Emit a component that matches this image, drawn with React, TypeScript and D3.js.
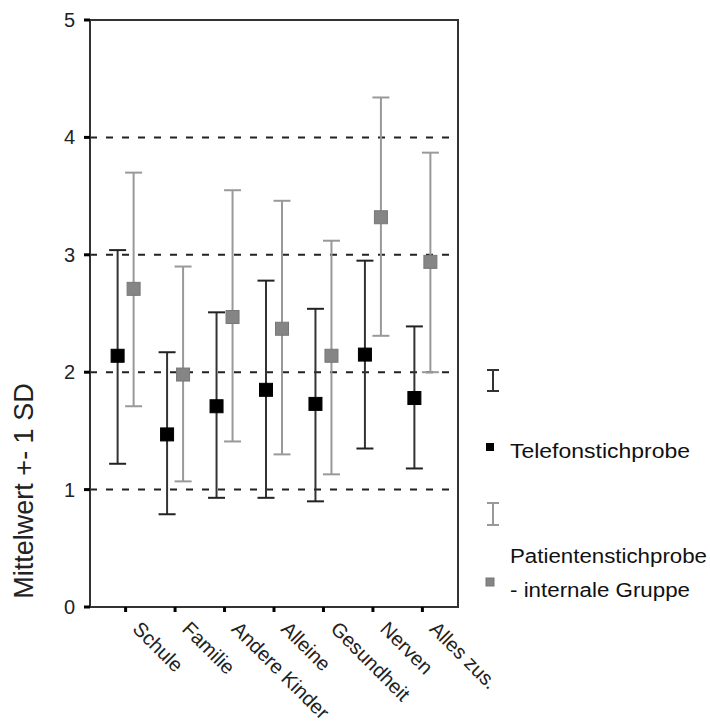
import * as d3 from "d3";

const categories = ["Schule", "Familie", "Andere Kinder", "Alleine", "Gesundheit", "Nerven", "Alles zus."];

// Telefonstichprobe
const telMean = [2.14, 1.47, 1.71, 1.85, 1.73, 2.15, 1.78];
const telLow = [1.22, 0.79, 0.93, 0.93, 0.9, 1.35, 1.18];
const telHigh = [3.04, 2.17, 2.51, 2.78, 2.54, 2.95, 2.39];

// Patientenstichprobe - internale Gruppe
const patMean = [2.71, 1.98, 2.47, 2.37, 2.14, 3.32, 2.94];
const patLow = [1.71, 1.07, 1.41, 1.3, 1.13, 2.31, 2.0];
const patHigh = [3.7, 2.9, 3.55, 3.46, 3.12, 4.34, 3.87];

const yTicks = [0, 1, 2, 3, 4, 5];
const gridValues = [1, 2, 3, 4];

const W = 710;
const H = 724;
const left = 90;
const right = 458;
const top = 20;
const bottom = 607;
const font = "'Liberation Sans', Arial, sans-serif";

const series = [
  { name: "Telefonstichprobe", mean: telMean, low: telLow, high: telHigh, offset: -8, line: "#333", cap: "#222", fill: "#000", stroke: "#000" },
  { name: "Patientenstichprobe", mean: patMean, low: patLow, high: patHigh, offset: 8, line: "#999", cap: "#999", fill: "#858585", stroke: "#777" },
];

export default function App() {
  const x = d3.scalePoint<string>().domain(categories).range([left, right]).padding(0.72);
  const y = d3.scaleLinear().domain([0, 5]).range([bottom, top]);
  const capW = 17;
  const sq = 13;

  return (
    <svg width={W} height={H} style={{ position: "absolute", left: 0, top: 0, background: "#fff" }} fontFamily={font}>
      {/* dashed reference lines */}
      {gridValues.map((v) => (
        <line key={v} x1={left} x2={right} y1={y(v)} y2={y(v)} stroke="#222" strokeWidth={2} strokeDasharray="7,9" />
      ))}

      {/* frame */}
      <rect x={left} y={top} width={right - left} height={bottom - top} fill="none" stroke="#333" strokeWidth={2} />

      {/* y ticks */}
      {yTicks.map((t) => (
        <g key={t}>
          <line x1={left - 6} x2={left} y1={y(t)} y2={y(t)} stroke="#000" strokeWidth={3} />
          <text x={75} y={y(t)} dy="0.35em" textAnchor="end" fontSize={20} fill="#222">{t}</text>
        </g>
      ))}

      {/* x ticks + labels */}
      {categories.map((c) => (
        <g key={c}>
          <line x1={x(c)} x2={x(c)} y1={bottom} y2={bottom + 5} stroke="#000" strokeWidth={3} />
          <text transform={`translate(${(x(c) as number) + 6},${bottom + 23}) rotate(45)`} fontSize={20} fill="#222">{c}</text>
        </g>
      ))}

      {/* error bars */}
      {series.map((s) =>
        categories.map((c, i) => {
          const cx = (x(c) as number) + s.offset;
          return (
            <g key={s.name + c}>
              <line x1={cx} x2={cx} y1={y(s.low[i])} y2={y(s.high[i])} stroke={s.line} strokeWidth={2} />
              <line x1={cx - capW / 2} x2={cx + capW / 2} y1={y(s.high[i])} y2={y(s.high[i])} stroke={s.cap} strokeWidth={2} />
              <line x1={cx - capW / 2} x2={cx + capW / 2} y1={y(s.low[i])} y2={y(s.low[i])} stroke={s.cap} strokeWidth={2} />
              <rect x={cx - sq / 2} y={y(s.mean[i]) - sq / 2} width={sq} height={sq} fill={s.fill} stroke={s.stroke} strokeWidth={1} />
            </g>
          );
        })
      )}

      {/* y axis title */}
      <text transform="translate(33,491) rotate(-90)" textAnchor="middle" fontSize={27} fill="#222">Mittelwert +- 1 SD</text>

      {/* legend */}
      <g>
        <line x1={493} x2={493} y1={370} y2={391} stroke="#333" strokeWidth={2} />
        <line x1={487} x2={499} y1={370} y2={370} stroke="#333" strokeWidth={2} />
        <line x1={487} x2={499} y1={391} y2={391} stroke="#333" strokeWidth={2} />
        <rect x={486} y={443} width={8} height={8} fill="#000" />
        <text x={510} y={458} fontSize={20} textLength={180} lengthAdjust="spacingAndGlyphs" fill="#111">Telefonstichprobe</text>

        <line x1={493} x2={493} y1={503} y2={525} stroke="#999" strokeWidth={2} />
        <line x1={487} x2={499} y1={503} y2={503} stroke="#999" strokeWidth={2} />
        <line x1={487} x2={499} y1={525} y2={525} stroke="#999" strokeWidth={2} />
        <text x={510} y={563} fontSize={20} textLength={197} lengthAdjust="spacingAndGlyphs" fill="#111">Patientenstichprobe</text>
        <rect x={486} y={578} width={8} height={8} fill="#858585" stroke="#777" />
        <text x={510} y={597} fontSize={20} textLength={180} lengthAdjust="spacingAndGlyphs" fill="#111">- internale Gruppe</text>
      </g>
    </svg>
  );
}
